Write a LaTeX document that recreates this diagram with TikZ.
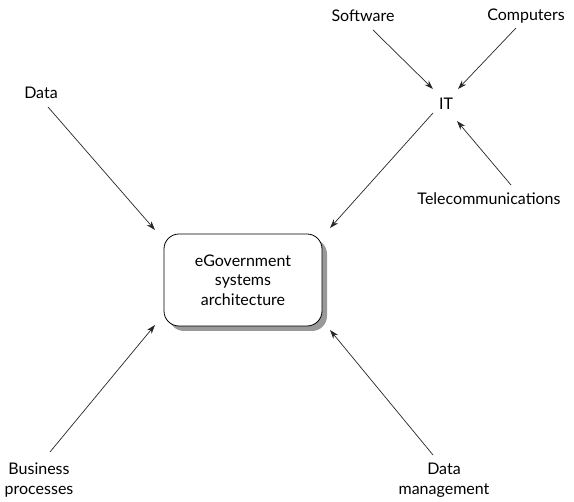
\documentclass[tikz,border=0pt]{standalone}
\usepackage{fontspec}
\setmainfont{Lato}
\usetikzlibrary{arrows.meta}
\begin{document}
\begin{tikzpicture}[x=1pt,y=-1pt,
  lbl/.style={font=\fontsize{16}{19.5}\selectfont, inner sep=0pt, align=center},
  arr/.style={draw=black!85, line width=0.7pt, -{Stealth[length=9pt,width=6pt]}},
  mainbox/.style={draw=black, line width=0.8pt, rounded corners=15pt, fill=white,
    minimum width=158pt, minimum height=92pt, align=center,
    font=\fontsize{16}{19.5}\selectfont}]
\useasboundingbox (0,0) rectangle (574,502);
% shadow
\fill[black!40, rounded corners=15pt] (169,239) rectangle (327,331);
\node[mainbox] (box) at (243,280) {eGovernment\\systems\\architecture};
\node[lbl] (sw) at (363,16) {Software};
\node[lbl] (co) at (526,16) {Computers};
\node[lbl] (it) at (446,104) {IT};
\node[lbl] (te) at (489,199) {Telecommunications};
\node[lbl] (da) at (41,93) {Data};
\node[lbl] (bp) at (39,480) {Business\\processes};
\node[lbl] (dm) at (444,480) {Data\\management};
\coordinate (swS) at (373,30);
\coordinate (swE) at (433,89);
\coordinate (coS) at (516,28);
\coordinate (coE) at (458,89);
\coordinate (teS) at (511,185);
\coordinate (teE) at (457,121);
\coordinate (itS) at (433,113);
\coordinate (itE) at (330,228);
\coordinate (daS) at (48,107);
\coordinate (daE) at (155,230);
\coordinate (bpS) at (50,452);
\coordinate (bpE) at (155,325);
\coordinate (dmS) at (433,455);
\coordinate (dmE) at (330,330);
\draw[arr] (swS) -- (swE);
\draw[arr] (coS) -- (coE);
\draw[arr] (teS) -- (teE);
\draw[arr] (itS) -- (itE);
\draw[arr] (daS) -- (daE);
\draw[arr] (bpS) -- (bpE);
\draw[arr] (dmS) -- (dmE);
\end{tikzpicture}
\end{document}
